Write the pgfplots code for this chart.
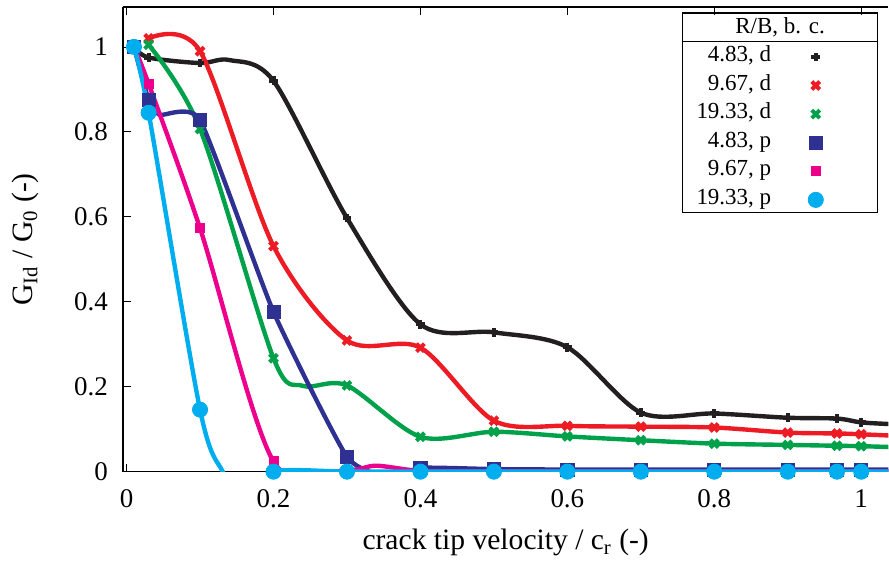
\documentclass[border=0pt]{standalone}
\usepackage{pgfplots}
\pgfplotsset{compat=1.18}
\usepackage{pgfplotstable}
\usepackage{amsmath}
\usepackage{fontspec}
\setmainfont{Liberation Serif}

\definecolor{cblack}{RGB}{35,31,32}
\definecolor{cred}{RGB}{237,28,36}
\definecolor{cgreen}{RGB}{0,161,75}
\definecolor{cblue}{RGB}{46,49,146}
\definecolor{cmag}{RGB}{236,0,140}
\definecolor{ccyan}{RGB}{0,174,239}

% m=1: data point (marked), m=0: point read off the drawn curve only
% R/B = 4.83, d
\pgfplotstableread{
x y m
0.01 1.000 1
0.03 0.975 1
0.10 0.962 1
0.14 0.969 0
0.20 0.920 1
0.30 0.597 1
0.40 0.347 1
0.50 0.328 1
0.60 0.293 1
0.70 0.139 1
0.80 0.137 1
0.90 0.127 1
0.967 0.125 1
1.00 0.116 1
1.04 0.112 0
}\blackd
% R/B = 9.67, d
\pgfplotstableread{
x y m
0.03 1.020 1
0.10 0.990 1
0.20 0.531 1
0.30 0.309 1
0.40 0.292 1
0.50 0.120 1
0.60 0.108 1
0.70 0.106 1
0.80 0.104 1
0.90 0.092 1
0.967 0.090 1
1.00 0.088 1
1.04 0.085 0
}\redd
% R/B = 19.33, d
\pgfplotstableread{
x y m
0.03 1.005 1
0.10 0.807 1
0.20 0.267 1
0.24 0.202 0
0.30 0.203 1
0.40 0.082 1
0.50 0.094 1
0.60 0.083 1
0.70 0.074 1
0.80 0.066 1
0.90 0.063 1
0.967 0.061 1
1.00 0.060 1
1.04 0.058 0
}\greend
% R/B = 4.83, p
\pgfplotstableread{
x y m
0.01 1.000 1
0.03 0.875 1
0.045 0.840 0
0.10 0.828 1
0.20 0.376 1
0.30 0.035 1
0.36 -0.015 0
0.40 0.009 1
0.50 0.006 1
0.60 0.005 1
0.70 0.005 1
0.80 0.005 1
0.90 0.005 1
0.967 0.005 1
1.00 0.005 1
1.04 0.005 0
}\bluep
% R/B = 9.67, p
\pgfplotstableread{
x y m
0.01 1.000 1
0.03 0.913 1
0.10 0.573 1
0.20 0.024 1
0.30 0.004 1
0.34 0.014 0
0.40 0.002 1
0.50 0.001 1
0.60 0.001 1
0.70 0.001 1
0.80 0.001 1
0.90 0.001 1
0.967 0.001 1
1.00 0.001 1
1.04 0.001 0
}\magp
% R/B = 19.33, p
\pgfplotstableread{
x y m
0.01 1.000 1
0.03 0.845 1
0.10 0.146 1
0.131 0.000 0
0.16 -0.060 0
0.20 0.000 1
0.30 0.000 1
0.40 0.000 1
0.50 0.000 1
0.60 0.000 1
0.70 0.000 1
0.80 0.000 1
0.90 0.000 1
0.967 0.000 1
1.00 0.000 1
1.04 0.000 0
}\cyanp

\begin{document}
\begin{tikzpicture}
\begin{axis}[
  name=ax,
  scale only axis,
  width=383pt, height=232.5pt,
  xmin=-0.005, xmax=1.037,
  ymin=0, ymax=1.094,
  axis x line=box,
  axis y line*=left,
  xtick={0,0.2,...,1}, ytick={0,0.2,...,1},
  tick align=inside,
  major tick length=4pt,
  tick style={black, thin},
  axis line style={black, line width=0.6pt},
  /pgf/number format/assume math mode=true,
  tick label style={font=\fontsize{13.5}{15}\selectfont},
  xticklabel style={yshift=-5.5pt},
  yticklabel style={xshift=-4pt},
  xlabel={crack tip velocity / c$_{\text{r}}$ (-)},
  ylabel={G$_{\text{Id}}$ / G$_{\text{0}}$ (-)},
  every axis x label/.style={at={(axis description cs:0.5,-0.153)}, anchor=center,
    font=\fontsize{14.8}{17}\selectfont},
  every axis y label/.style={at={(axis description cs:-0.127,0.5)}, rotate=90, anchor=center,
    font=\fontsize{14.8}{17}\selectfont},
  legend plot pos=right,
  legend cell align=right,
  legend style={at={(axis description cs:0.7467,0.9215)}, anchor=north west,
    draw=none, fill=none, inner sep=0pt, outer sep=0pt,
    font=\fontsize{11.5}{13}\selectfont,
    row sep=0.8pt,
    nodes={inner sep=1pt, text height=8pt, text depth=3.5pt},
    /tikz/every odd column/.append style={column sep=17.5pt}},
  every axis plot/.append style={line width=2.2pt},
]
\addplot[cblack, smooth, forget plot] table {\blackd};
\addplot[cred, smooth, forget plot] table {\redd};
\addplot[cgreen, smooth, forget plot] table {\greend};
\addplot[cblue, smooth, tension=0.3, forget plot] table {\bluep};
\addplot[cmag, smooth, forget plot] table {\magp};
\addplot[ccyan, smooth, forget plot] table {\cyanp};

\pgfplotsset{every axis plot/.append style={restrict expr to domain={\thisrow{m}}{0.5:1.5}}}
\addplot[only marks, cblack, mark=+, mark size=2.2pt, line width=2pt] table {\blackd};
\addlegendentry{4.83, d}
\addplot[only marks, cred, mark=x, mark size=2.8pt, line width=2pt] table {\redd};
\addlegendentry{9.67, d}
\addplot[only marks, cgreen, mark=x, mark size=2.8pt, line width=2pt] table {\greend};
\addlegendentry{19.33, d}
\addplot[only marks, cblue, mark=square*, mark size=3.3pt, line width=0.4pt] table {\bluep};
\addlegendentry{4.83, p}
\addplot[only marks, cmag, mark=square*, mark size=2.3pt, line width=0.4pt] table {\magp};
\addlegendentry{9.67, p}
\addplot[only marks, ccyan, mark=*, mark size=3.8pt, line width=0.4pt] table {\cyanp};
\addlegendentry{19.33, p}

\draw[black, line width=0.6pt] (axis description cs:0.731,0.557) rectangle (axis description cs:0.986,0.987);
\draw[black, line width=0.6pt] (axis description cs:0.731,0.925) -- (axis description cs:0.986,0.925);
\node[font=\fontsize{11.5}{13}\selectfont] at (axis description cs:0.8585,0.956) {R/B, b. c.};
\end{axis}
\path (ax.south west) ++(-61.5pt,-44.5pt);
\path (ax.north east) ++(0,3.5pt);
\end{tikzpicture}
\end{document}
